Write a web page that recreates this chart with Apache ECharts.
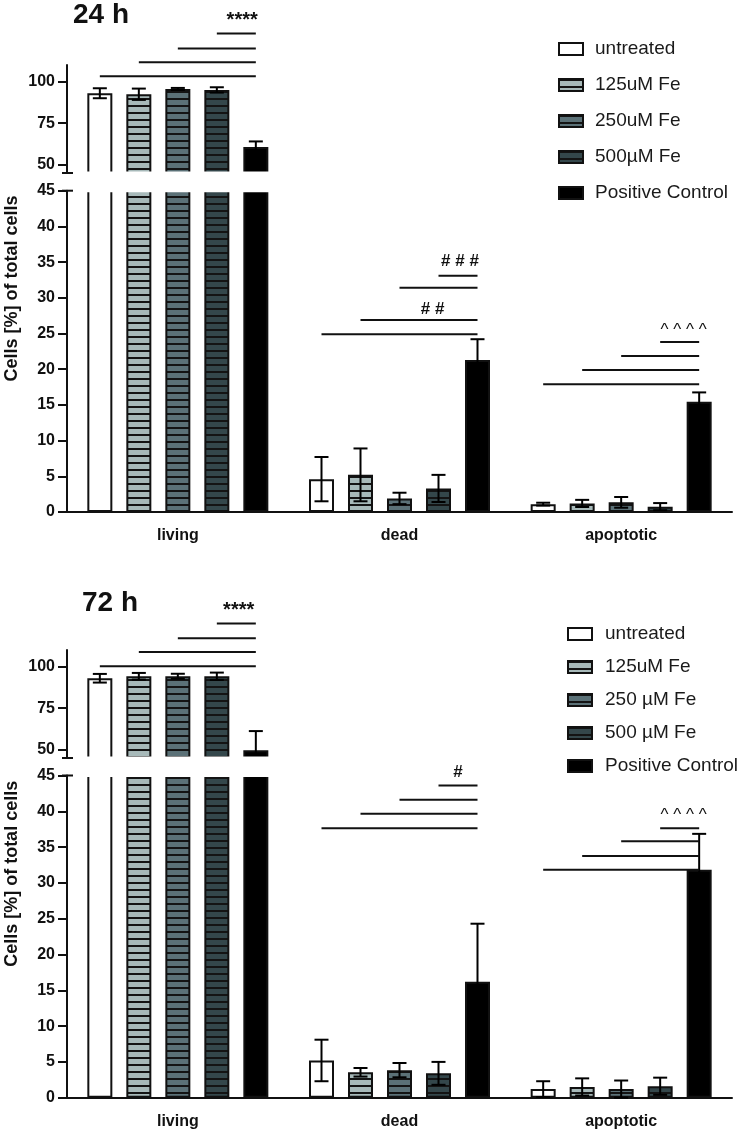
<!DOCTYPE html>
<html><head><meta charset="utf-8">
<script src="https://cdn.jsdelivr.net/npm/echarts@6/dist/echarts.min.js"></script>
<style>html,body{margin:0;padding:0;background:#fff}#c{width:740px;height:1132px}</style>
</head><body><div id="c"></div>
<script>
// ---------------- data ----------------
const groups = ['living', 'dead', 'apoptotic'];
const names24 = ['untreated', '125uM Fe', '250uM Fe', '500µM Fe', 'Positive Control'];
const names72 = ['untreated', '125uM Fe', '250 µM Fe', '500 µM Fe', 'Positive Control'];
// means per treatment: [living, dead, apoptotic]
const mean24 = [[93.0, 4.6, 1.1], [92.4, 5.2, 1.2], [95.6, 1.9, 1.35], [95.0, 3.3, 0.75], [60.7, 21.3, 15.45]];
const err24  = [[3.0, 3.1, 0.2], [3.4, 3.7, 0.5], [0.6, 0.8, 0.75], [1.6, 1.9, 0.5], [3.3, 2.9, 1.3]];
const mean72 = [[93.0, 5.2, 1.2], [94.2, 3.55, 1.5], [94.2, 3.85, 1.2], [94.2, 3.4, 1.6], [49.6, 16.2, 31.85]];
const err72  = [[2.6, 2.9, 1.1], [2.0, 0.6, 1.2], [1.5, 1.0, 1.2], [2.2, 1.6, 1.2], [11.6, 8.1, 5.0]];
const upperTicks = [50, 75, 100];
const upperRange = [45, 110];
const lowerRange = [0, 45];
const lowerInterval = 5;
// significance brackets: [category, from bar, level] (to positive control)
const sigLines24 = [[0,0,103.2],[0,1,111.6],[0,2,120.0],[0,3,128.9],
                    [1,0,24.9],[1,1,26.9],[1,2,31.4],[1,3,33.1],
                    [2,0,17.9],[2,1,19.9],[2,2,21.85],[2,3,23.8]];
const sigText24 = [[0,3.65,138.5,'****'],[1,2.85,28.4,'# #'],[1,3.55,35.1,'# # #'],[2,3.6,25.5,'^ ^ ^ ^']];
const sigLines72 = [[0,0,100.2],[0,1,108.8],[0,2,117.0],[0,3,126.0],
                    [1,0,37.65],[1,1,39.67],[1,2,41.6],[1,3,43.6],
                    [2,0,31.85],[2,1,33.75],[2,2,35.8],[2,3,37.65]];
const sigText72 = [[0,3.56,135.7,'****'],[1,3.5,45.5,'#'],[2,3.6,39.4,'^ ^ ^ ^']];

// ---------------- style / layout ----------------
const FONT = '"Liberation Sans", Arial, Helvetica, sans-serif';
const INK = '#111111';
const ERR_INK = '#000000';
const BAR_W = 25, BAR_GAP = 0.56, STEP = BAR_W * (1 + BAR_GAP), CAP = 7;
const fillColors = ['#ffffff', '#a7b9b9', '#5b7177', '#34474b', '#000000'];
const striped = [false, true, true, true, false];
function stripes(fill) {
  const c = document.createElement('canvas');
  c.width = 8; c.height = 7;
  const g = c.getContext('2d');
  g.fillStyle = fill; g.fillRect(0, 0, 8, 7);
  g.fillStyle = '#141414'; g.fillRect(0, 0, 8, 2);
  return { image: c, repeat: 'repeat' };
}
const fills = fillColors.map((c, i) => striped[i] ? stripes(c) : c);

const GRID_LEFT = 67, GRID_W = 665;
const panelGeo = [
  { uTop: 65, uH: 108, lTop: 190.7, lH: 321.3, title: '24 h', tx: 73, ty: 15, lgLeft: 553, lgTop: 34.5, lgGap: 17, lgPad: 7 },
  { uTop: 650, uH: 108, lTop: 775.5, lH: 322.2, title: '72 h', tx: 82, ty: 603, lgLeft: 562, lgTop: 619.5, lgGap: 14, lgPad: 8 }
];

const grids = [], xAxes = [], yAxes = [], series = [], graphics = [], legends = [];
const tickLabel = { fontFamily: FONT, fontWeight: 'bold', fontSize: 16, color: INK };

function buildPanel(p, names, means, errs, sLines, sText) {
  const G = panelGeo[p];
  const gU = p * 2, gL = p * 2 + 1;
  grids.push({ left: GRID_LEFT, width: GRID_W, top: G.uTop, height: G.uH, containLabel: false });
  grids.push({ left: GRID_LEFT, width: GRID_W, top: G.lTop, height: G.lH, containLabel: false });
  xAxes.push({ type: 'category', gridIndex: gU, data: groups, show: false });
  xAxes.push({ type: 'category', gridIndex: gL, data: groups,
    axisLine: { lineStyle: { color: INK, width: 2 } },
    axisTick: { alignWithLabel: true, length: 8, lineStyle: { color: INK, width: 2 } },
    axisLabel: Object.assign({ margin: 16 }, tickLabel) });
  yAxes.push({ type: 'value', gridIndex: gU, min: upperRange[0], max: upperRange[1],
    splitLine: { show: false },
    axisLine: { show: true, lineStyle: { color: INK, width: 2 } },
    axisTick: { show: true, length: 9, customValues: upperTicks, lineStyle: { color: INK, width: 2 } },
    axisLabel: Object.assign({ margin: 12, customValues: upperTicks }, tickLabel) });
  yAxes.push({ type: 'value', gridIndex: gL, min: lowerRange[0], max: lowerRange[1], interval: lowerInterval,
    splitLine: { show: false },
    axisLine: { show: true, lineStyle: { color: INK, width: 2 } },
    axisTick: { show: true, length: 9, lineStyle: { color: INK, width: 2 } },
    axisLabel: Object.assign({ margin: 12 }, tickLabel) });

  names.forEach((n, i) => {
    const itemStyle = { color: fills[i], borderColor: INK, borderWidth: 2 };
    const common = { type: 'bar', name: n, barWidth: BAR_W, barGap: (BAR_GAP * 100) + '%', itemStyle, silent: true, clip: true };
    series.push(Object.assign({ xAxisIndex: gU, yAxisIndex: gU,
      data: means[i].map(v => v >= upperRange[0] ? v : '-') }, common));
    series.push(Object.assign({ xAxisIndex: gL, yAxisIndex: gL, data: means[i].slice() }, common));
  });

  // error bars
  const eU = [], eL = [];
  means.forEach((row, b) => row.forEach((m, c) => {
    (m >= upperRange[0] ? eU : eL).push([c, b, m, errs[b][c]]);
  }));
  const nb = names.length;
  function errRender(params, api) {
    const c = api.value(0), b = api.value(1), m = api.value(2), e = api.value(3);
    const x = api.coord([c, m])[0] + (b - (nb - 1) / 2) * STEP;
    const yT = api.coord([c, m + e])[1], yB = api.coord([c, m - e])[1];
    const st = { stroke: ERR_INK, lineWidth: 2 };
    return { type: 'group', children: [
      { type: 'line', shape: { x1: x, y1: yT, x2: x, y2: yB }, style: st },
      { type: 'line', shape: { x1: x - CAP, y1: yT, x2: x + CAP, y2: yT }, style: st },
      { type: 'line', shape: { x1: x - CAP, y1: yB, x2: x + CAP, y2: yB }, style: st } ] };
  }
  [[gU, eU], [gL, eL]].forEach(([g, d]) => series.push({ type: 'custom', xAxisIndex: g, yAxisIndex: g,
    data: d, renderItem: errRender, silent: true, z: 5, clip: false,
    dimensions: ['c', 'b', 'm', 'e'], encode: { x: 0, y: 2 } }));

  // significance brackets
  function sigRender(params, api) {
    const c = api.value(0), from = api.value(1), lvl = api.value(2);
    const cx = api.coord([c, lvl])[0], y = api.coord([c, lvl])[1];
    const x1 = cx + (from - (nb - 1) / 2) * STEP, x2 = cx + ((nb - 1) / 2) * STEP;
    return { type: 'line', shape: { x1, y1: y, x2, y2: y }, style: { stroke: INK, lineWidth: 2 } };
  }
  const sU = sLines.filter(s => s[0] === 0), sL = sLines.filter(s => s[0] !== 0);
  [[gU, sU], [gL, sL]].forEach(([g, d]) => series.push({ type: 'custom', xAxisIndex: g, yAxisIndex: g,
    data: d, renderItem: sigRender, silent: true, z: 5, clip: false,
    dimensions: ['c', 'from', 'lvl'], encode: { x: 0, y: 2 } }));
  const tU = sText.filter(s => s[0] === 0), tL = sText.filter(s => s[0] !== 0);
  [[gU, tU], [gL, tL]].forEach(([g, d]) => series.push({ type: 'custom', xAxisIndex: g, yAxisIndex: g,
    data: d.map(s => [s[0], s[1], s[2]]), silent: true, z: 5, clip: false,
    dimensions: ['c', 'pos', 'lvl'], encode: { x: 0, y: 2 },
    renderItem: (params, api) => {
      const c = api.value(0), pos = api.value(1), lvl = api.value(2);
      const pt = api.coord([c, lvl]);
      const txt = d[params.dataIndex][3];
      const isStar = txt.indexOf('*') >= 0;
      return { type: 'text', x: pt[0] + (pos - (nb - 1) / 2) * STEP, y: pt[1] + (isStar ? 3 : 0),
        style: { text: txt, textAlign: 'center', textVerticalAlign: 'middle', fill: INK,
          font: (isStar ? 'bold 20px ' : (txt.indexOf('#') >= 0 ? 'bold 17px ' : '17px ')) + FONT } };
    } }));

  legends.push({ data: names.slice(), orient: 'vertical', left: G.lgLeft, top: G.lgTop, itemGap: G.lgGap,
    itemWidth: 24, itemHeight: 12, selectedMode: false, icon: 'rect',
    textStyle: { fontFamily: FONT, fontSize: 19, color: '#1a1a1a', padding: [0, 0, 0, G.lgPad] } });

  // decorations: title, axis title, axis break (cover only the living group, which crosses the break)
  const uBot = G.uTop + G.uH, lTop = G.lTop;
  graphics.push({ type: 'rect', shape: { x: GRID_LEFT + 2, y: uBot - 1.5, width: GRID_W / groups.length, height: lTop - uBot + 3 },
    style: { fill: '#ffffff' }, z: 50, silent: true });
  graphics.push({ type: 'line', shape: { x1: GRID_LEFT - 5, y1: uBot, x2: GRID_LEFT + 6, y2: uBot }, style: { stroke: INK, lineWidth: 2 }, z: 60 });
  graphics.push({ type: 'line', shape: { x1: GRID_LEFT - 5, y1: lTop, x2: GRID_LEFT + 6, y2: lTop }, style: { stroke: INK, lineWidth: 2 }, z: 60 });
  graphics.push({ type: 'text', x: G.tx, y: G.ty, z: 60,
    style: { text: G.title, font: 'bold 28px ' + FONT, fill: INK, textAlign: 'left', textVerticalAlign: 'middle' } });
  graphics.push({ type: 'text', x: 12, y: (G.uTop + lTop + G.lH) / 2, rotation: Math.PI / 2, z: 60,
    style: { text: 'Cells [%] of total cells', font: 'bold 18px ' + FONT, fill: INK, textAlign: 'center', textVerticalAlign: 'middle' } });
}

buildPanel(0, names24, mean24, err24, sigLines24, sigText24);
buildPanel(1, names72, mean72, err72, sigLines72, sigText72);

const chart = echarts.init(document.getElementById('c'), null, { renderer: 'canvas' });
chart.setOption({
  animation: false,
  backgroundColor: '#ffffff',
  grid: grids, xAxis: xAxes, yAxis: yAxes, legend: legends,
  series: series,
  graphic: { elements: graphics }
});
</script></body></html>
